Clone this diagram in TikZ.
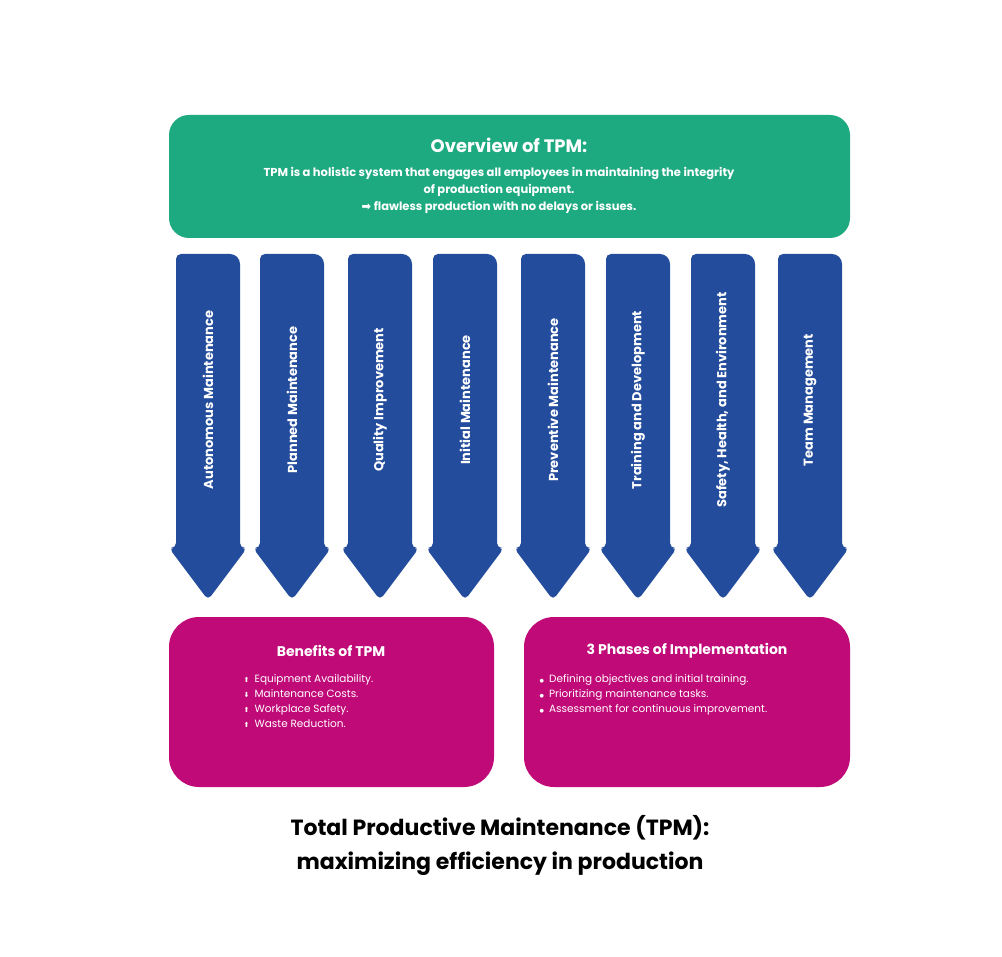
\documentclass[tikz,border=0pt]{standalone}
\usepackage{fontspec}
\setmainfont{Poppins}
\newfontfamily\symf{DejaVu Sans}
\definecolor{tgreen}{HTML}{1EAA80}
\definecolor{tblue}{HTML}{234C9C}
\definecolor{tmag}{HTML}{C00A78}
\begin{document}
\begin{tikzpicture}[x=1pt,y=-1pt,
  gbox/.style={fill=tgreen,rounded corners=20pt},
  mbox/.style={fill=tmag,rounded corners=30pt},
  arr/.style={fill=tblue,rounded corners=5pt},
  alab/.style={rotate=90,text=white,font=\bfseries\fontsize{13}{15}\selectfont},
  wtext/.style={text=white,align=center}]
\useasboundingbox (0,0) rectangle (1002,957);
\fill[gbox] (169,115) rectangle (850,238);
\node[wtext,font=\fontsize{18}{20}\selectfont\bfseries] (ot) at (509,145) {Overview of TPM:};
\node[wtext,font=\fontsize{11.5}{17}\selectfont\bfseries] (od) at (499,190) {TPM is a holistic system that engages all employees in maintaining the integrity\\of production equipment.\\{\symf ➡} flawless production with no delays or issues.};
\foreach \cx/\t/\n in {208/Autonomous Maintenance/a1,292/Planned Maintenance/a2,380/Quality Improvement/a3,465/Initial Maintenance/a4,553/Preventive Maintenance/a5,638/Training and Development/a6,723/{Safety, Health, and Environment}/a7,810/Team Management/a8}{
  \fill[arr] (\cx-32,548) -- (\cx-32,254) [rounded corners=10pt]-- (\cx+32,254) [rounded corners=5pt]-- (\cx+32,548) -- (\cx+39,548) -- (\cx,600) -- (\cx-39,548) -- cycle;
  \node[alab] (\n) at (\cx,400) {\t};
}
\fill[mbox] (169,617) rectangle (494,787);
\fill[mbox] (524,617) rectangle (850,787);
\node[wtext,font=\fontsize{14}{16}\selectfont\bfseries] (bt) at (331,651) {Benefits of TPM};
\node[text=white,align=left,font=\fontsize{10.5}{15}\selectfont,anchor=north west] (bl) at (240,671) {{\symf\scriptsize ⬆}\enspace Equipment Availability.\\{\symf\scriptsize ⬇}\enspace Maintenance Costs.\\{\symf\scriptsize ⬆}\enspace Workplace Safety.\\{\symf\scriptsize ⬆}\enspace Waste Reduction.};
\node[wtext,font=\fontsize{14}{16}\selectfont\bfseries] (pt) at (687,651) {3 Phases of Implementation};
\node[text=white,align=left,font=\fontsize{10.5}{15}\selectfont,anchor=north west] (pl) at (536,671) {{\symf\tiny ●}\enspace Defining objectives and initial training.\\{\symf\tiny ●}\enspace Prioritizing maintenance tasks.\\{\symf\tiny ●}\enspace Assessment for continuous improvement.};
\node[align=center,font=\fontsize{22}{34}\selectfont\bfseries] (title) at (500,845) {Total Productive Maintenance (TPM):\\maximizing efficiency in production};
\end{tikzpicture}
\end{document}
